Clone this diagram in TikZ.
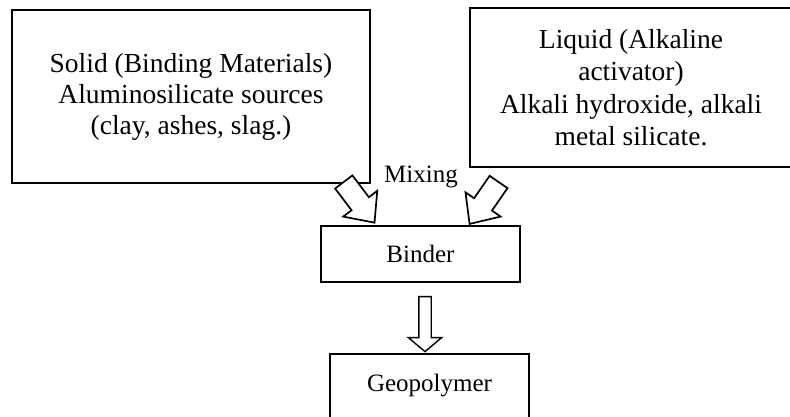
\documentclass[tikz,border=0pt]{standalone}
\usepackage{fontspec}
\setmainfont{Liberation Serif}
\usetikzlibrary{shapes.arrows}

\begin{document}
\begin{tikzpicture}[x=1pt, y=1pt,
	bigbox/.style={draw, line width=2pt, align=center, inner sep=0pt, font=\fontsize{27.5}{31}\selectfont},
	smallbox/.style={draw, line width=1.2pt, inner sep=0pt, font=\fontsize{25}{30}\selectfont},
	blockarrow/.style={single arrow, draw, fill=white, line width=1.7pt, inner xsep=0pt, inner ysep=0pt, text depth=0pt, sloped, allow upside down}]
	\def \mixshaft{ 20pt };
	\def \mixext{ 10.5pt };
	\useasboundingbox (0,0) rectangle (790,416);
	\node[bigbox, minimum width=358pt, minimum height=173pt] (solid) at (191,319.5) {Solid (Binding Materials)\\Aluminosilicate sources\\(clay, ashes, slag.)};
	\node[bigbox, minimum width=322pt, minimum height=159pt, font=\fontsize{27.5}{32.5}\selectfont] (liquid) at (631,328.5) {Liquid (Alkaline\\activator)\\Alkali hydroxide, alkali\\metal silicate.};
	\node[smallbox, minimum width=199pt, minimum height=56pt] (binder) at (420.5,162) {Binder};
	\node[smallbox, minimum width=199pt, minimum height=64pt] (geo) at (429.5,30) {Geopolymer};
	\node[font=\fontsize{25}{30}\selectfont, inner sep=0pt] (mixing) at (421,239) {Mixing};
	\coordinate (solidtail) at (340,239);
	\coordinate (solidtip) at (371,198);
	\coordinate (liquidtail) at (502,239);
	\coordinate (liquidtip) at (473,197);
	\coordinate (bindertail) at (425,122);
	\coordinate (bindertip) at (425,67);
	\path (solidtail) -- node[blockarrow, text height=\mixshaft, single arrow head extend=\mixext, single arrow tip angle=84, minimum height=51pt] (arrowsolid) {} (solidtip);
	\path (liquidtail) -- node[blockarrow, text height=\mixshaft, single arrow head extend=\mixext, single arrow tip angle=84, minimum height=51pt] (arrowliquid) {} (liquidtip);
	\path (bindertail) -- node[blockarrow, line width=1.4pt, text height=11pt, single arrow head extend=10.5pt, single arrow tip angle=100, minimum height=55pt] (arrowbinder) {} (bindertip);
\end{tikzpicture}
\end{document}
